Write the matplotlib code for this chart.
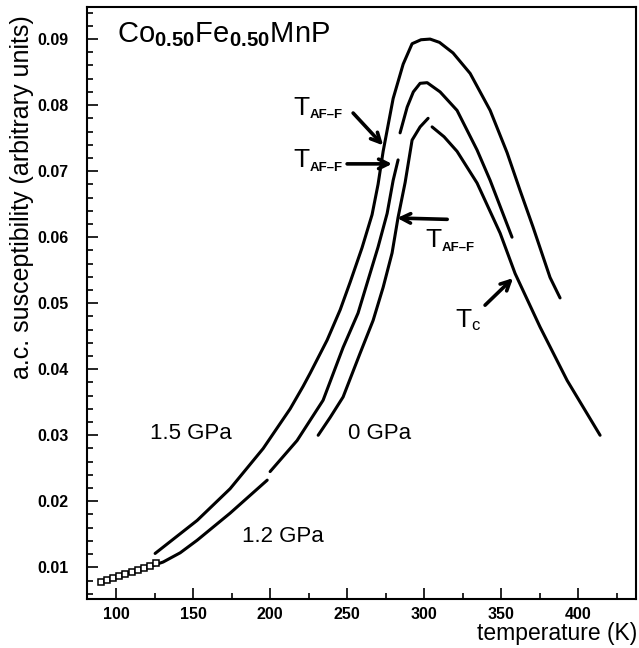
"""Co0.50Fe0.50MnP a.c. susceptibility vs temperature at three pressures."""

import matplotlib
matplotlib.use("Agg")
import matplotlib.pyplot as plt
from matplotlib.ticker import MultipleLocator, FormatStrFormatter

plt.rcParams["font.family"] = ["Liberation Sans", "DejaVu Sans"]
plt.rcParams["mathtext.fontset"] = "custom"
plt.rcParams["mathtext.rm"] = "Liberation Sans"
plt.rcParams["mathtext.bf"] = "Liberation Sans:bold"

# 1.5 GPa, one continuous sweep
T_15 = [125.3, 152.6, 174.0, 195.5, 213.0, 221.4, 226.0, 237.0, 245.5, 252.0,
        259.7, 266.2, 270.1, 273.4, 279.9, 286.4, 292.2, 298.0, 303.9, 310.0,
        318.8, 329.9, 342.9, 353.9, 362.3, 370.8, 381.8, 388.3]
CHI_15 = [0.0121, 0.0171, 0.0219, 0.0280, 0.0340, 0.0374, 0.0394, 0.0444, 0.0490, 0.0532,
          0.0584, 0.0634, 0.0680, 0.0730, 0.0810, 0.0862, 0.0893, 0.0899, 0.0900, 0.0895,
          0.0879, 0.0848, 0.0792, 0.0728, 0.0671, 0.0615, 0.0539, 0.0508]

# 1.2 GPa, three pieces (small hook near 200 K, jump at T_AF-F)
T_12_A = [109.1, 130.5, 141.6, 152.6, 174.0, 198.1]
CHI_12_A = [0.0091, 0.0108, 0.0122, 0.0141, 0.0182, 0.0232]
T_12_B = [200.0, 217.5, 234.4, 247.4, 257.1, 263.6, 270.1, 276.0, 279.9, 283.1]
CHI_12_B = [0.0245, 0.0292, 0.0353, 0.0433, 0.0485, 0.0535, 0.0585, 0.0636, 0.0686, 0.0717]
T_12_C = [284.4, 289.0, 293.0, 297.4, 302.0, 310.4, 321.4, 334.4, 342.9, 357.1]
CHI_12_C = [0.0758, 0.0797, 0.0820, 0.0833, 0.0834, 0.0820, 0.0792, 0.0732, 0.0686, 0.0600]

# low temperature points drawn as open squares
T_SQ = [90, 94, 98, 102, 106, 110, 114, 118, 122, 126]
CHI_SQ = [0.0078, 0.0081, 0.0084, 0.0087, 0.0090, 0.0093, 0.0096, 0.0099, 0.0102, 0.0106]

# 0 GPa, two pieces
T_0_A = [231.2, 239.0, 247.4, 258.4, 266.9, 273.4, 279.2, 283.1, 287.7, 292.2, 297.4, 302.6]
CHI_0_A = [0.0300, 0.0327, 0.0358, 0.0424, 0.0474, 0.0524, 0.0576, 0.0630, 0.0683, 0.0747,
           0.0767, 0.0780]
T_0_B = [305.2, 313.0, 321.4, 334.4, 349.4, 359.1, 375.3, 392.9, 414.3]
CHI_0_B = [0.0767, 0.0752, 0.0730, 0.0682, 0.0606, 0.0545, 0.0464, 0.0383, 0.0300]

# annotations: subscript, label position, arrow tail, arrow tip
TRANS_LABELS = [("AF\u2013F", (214.9, 0.0785), (253.9, 0.0788), (273.4, 0.0739)),
                ("AF\u2013F", (214.9, 0.0706), (250.0, 0.0711), (279.2, 0.0711)),
                ("AF\u2013F", (300.7, 0.0585), (315.0, 0.0627), (282.5, 0.0629)),
                ("c", (320.1, 0.0464), (339.6, 0.0497), (357.8, 0.0538))]
PRESSURE_LABELS = [("1.5 GPa", 122.1, 0.0295), ("1.2 GPa", 181.8, 0.0138),
                   ("0 GPa", 250.6, 0.0295)]

LW = 2.2

fig = plt.figure(figsize=(6.39, 6.48), dpi=100)
ax = fig.add_axes([0.136, 0.0756, 0.859, 0.913])

for t, c in [(T_15, CHI_15), (T_12_A, CHI_12_A), (T_12_B, CHI_12_B), (T_12_C, CHI_12_C),
             (T_0_A, CHI_0_A), (T_0_B, CHI_0_B)]:
    ax.plot(t, c, color="black", lw=LW, solid_capstyle="round", solid_joinstyle="round")
ax.plot(T_SQ, CHI_SQ, color="black", lw=1.2, marker="s", ms=4.5, mfc="white", mew=1.1)

for sub, (lx, ly), tail, tip in TRANS_LABELS:
    ax.text(lx, ly, "T", fontsize=19, ha="left", va="baseline")
    is_c = sub == "c"
    ax.annotate(sub, (lx, ly), xytext=(12, -2.5), textcoords="offset points",
                fontsize=12 if is_c else 9.5, fontweight="normal" if is_c else "bold",
                ha="left", va="baseline")
    ax.annotate("", xy=tip, xytext=tail,
                arrowprops=dict(arrowstyle="->", lw=2.6, color="black",
                                shrinkA=0, shrinkB=0, mutation_scale=17))

for text, x, y in PRESSURE_LABELS:
    ax.text(x, y, text, fontsize=16, ha="left", va="baseline")

ax.text(0.0546, 0.941, r"Co$_{\mathbf{0.50}}$Fe$_{\mathbf{0.50}}$MnP", fontsize=21,
        transform=ax.transAxes, ha="left", va="baseline")

ax.set_xlim(81, 437.5)
ax.set_ylim(0.0052, 0.0948)
ax.xaxis.set_major_locator(MultipleLocator(50))
ax.xaxis.set_minor_locator(MultipleLocator(25))
ax.yaxis.set_major_locator(MultipleLocator(0.01))
ax.yaxis.set_minor_locator(MultipleLocator(0.002))
ax.yaxis.set_major_formatter(FormatStrFormatter("%.2f"))
ax.tick_params(which="both", direction="in", top=False, right=False, width=1.2)
ax.tick_params(which="major", length=8)
ax.tick_params(which="minor", length=4.5)
ax.tick_params(axis="y", pad=13)
ax.tick_params(axis="x", pad=6)
for lab in ax.get_xticklabels() + ax.get_yticklabels():
    lab.set_fontweight("bold")
    lab.set_fontsize(11.5)
for sp in ax.spines.values():
    sp.set_linewidth(1.5)

fig.text(0.998, 1 - 640 / 648, "temperature (K)", fontsize=16.5, ha="right", va="baseline")
fig.text(22 / 639, 1 - 197 / 648, "a.c. susceptibility (arbitrary units)", fontsize=18,
         rotation=90, ha="center", va="center")

fig.savefig("out.png", dpi=100)
